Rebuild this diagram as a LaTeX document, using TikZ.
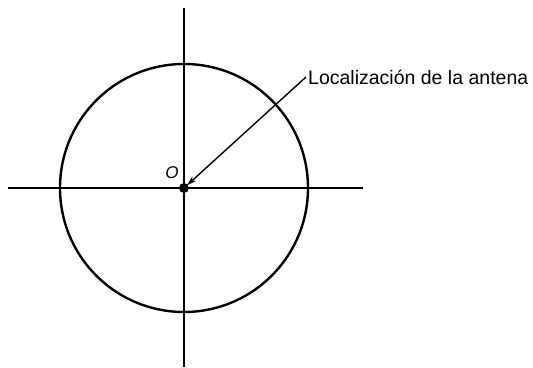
\documentclass[tikz,border=0pt]{standalone}
\usepackage{fontspec}
\setmainfont{Liberation Sans}
\usetikzlibrary{arrows.meta,positioning}

\begin{document}
\begin{tikzpicture}[x=1pt,y=1pt,every node/.style={font=\fontsize{19.5}{21}\selectfont},
 axisline/.style={line width=1.8pt},
 ring/.style={draw,circle,line width=2.4pt,minimum size=248pt,inner sep=0pt},
 pointer/.style={line width=1.4pt,-{Stealth[length=10pt,width=6pt]},shorten >=4pt}]
\useasboundingbox (0,0) rectangle (533,367);
\coordinate (O) at (184,179);
\coordinate (xl) at (8,179);\coordinate (xr) at (363,179);
\coordinate (yb) at (184,0);\coordinate (yt) at (184,359);
\draw[axisline](xl)--(xr);\draw[axisline](yb)--(yt);
\node[ring](circ) at (O){};
\fill (O) circle (5pt);
\node[font=\fontsize{17}{18}\selectfont\itshape](olabel) at (172,194){O};
\node[anchor=west,inner sep=2pt](antena) at (306,290){Localización de la antena};
\draw[pointer](antena.west)--(O);
\end{tikzpicture}
\end{document}
